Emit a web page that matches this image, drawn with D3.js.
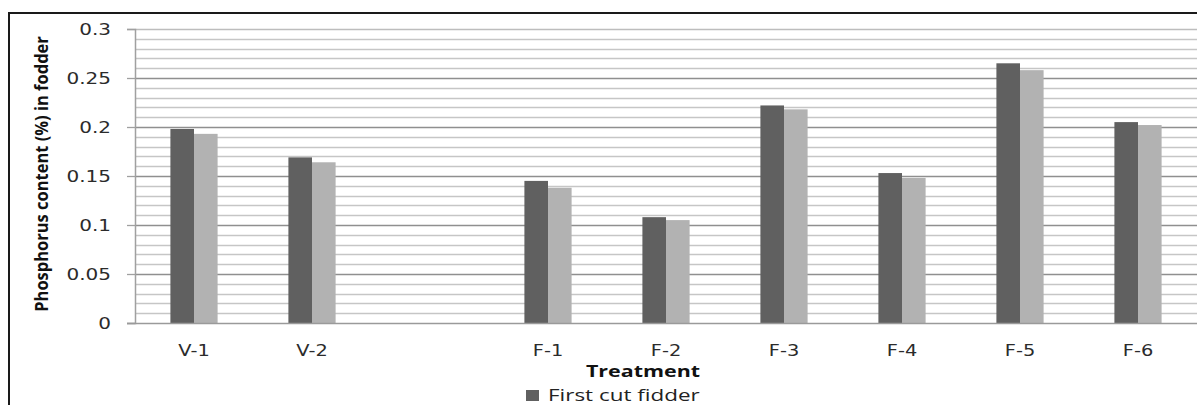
<!DOCTYPE html>
<html>
<head>
<meta charset="utf-8">
<script src="https://cdn.jsdelivr.net/npm/d3@7"></script>
<style>
  html, body { margin: 0; padding: 0; background: #fff; }
  svg { display: block; }
</style>
</head>
<body>
<svg id="chart" width="1197" height="405"></svg>
<script>
// ---- data ----
const categories = ["V-1", "V-2", "", "F-1", "F-2", "F-3", "F-4", "F-5", "F-6"];
const firstCut  = [0.198, 0.169, null, 0.145, 0.108, 0.222, 0.153, 0.265, 0.205];
const secondCut = [0.193, 0.164, null, 0.138, 0.105, 0.218, 0.148, 0.258, 0.202];
const seriesNames = ["First cut fidder", "Second cut fodder"];
const yTicks = [0, 0.05, 0.1, 0.15, 0.2, 0.25, 0.3];
const yMinor = d3.range(0, 31).map(i => i / 100);
const xTitle = "Treatment";
const yTitle = "Phosphorus content (%) in fodder";

// ---- layout ----
const W = 1197, H = 405;
const pL = 135, pR = 1197, pT = 29, pB = 323;
const colors = ["#606060", "#b2b2b2"];
const sx = 1.25; // horizontal stretch of the source image text

const svg = d3.select("#chart");

// outer frame
svg.append("path")
  .attr("d", `M9,${H} L9,13 L${W},13`)
  .attr("fill", "none").attr("stroke", "#1a1a1a").attr("stroke-width", 2);

const x = d3.scaleBand().domain(categories.map((c, i) => i))
  .range([pL, pR]).paddingInner(0.6).paddingOuter(0.3);
const xs = d3.scaleBand().domain([0, 1]).range([0, x.bandwidth()]);
const y = d3.scaleLinear().domain([0, 0.3]).range([pB, pT]);

// minor gridlines
svg.append("g").selectAll("line").data(yMinor.filter(v => Math.round(v * 100) % 5 !== 0))
  .join("line")
  .attr("x1", pL).attr("x2", pR)
  .attr("y1", d => Math.round(y(d)) + 0.5).attr("y2", d => Math.round(y(d)) + 0.5)
  .attr("stroke", "#c6c6c6").attr("stroke-width", 1.5);

// major gridlines
svg.append("g").selectAll("line").data(yTicks.filter(v => v > 0))
  .join("line")
  .attr("x1", pL).attr("x2", pR)
  .attr("y1", d => Math.round(y(d)) + 0.5).attr("y2", d => Math.round(y(d)) + 0.5)
  .attr("stroke", d => d === 0.3 ? "#bdbdbd" : "#8f8f8f").attr("stroke-width", 1.3);

// bars
const series = [firstCut, secondCut];
series.forEach((vals, si) => {
  svg.append("g").selectAll("rect")
    .data(vals.map((v, i) => ({ v, i })).filter(d => d.v != null))
    .join("rect")
    .attr("x", d => x(d.i) + xs(si))
    .attr("width", xs.bandwidth())
    .attr("y", d => y(d.v))
    .attr("height", d => y(0) - y(d.v))
    .attr("fill", colors[si]);
});

// y axis
const yAxis = svg.append("g").attr("transform", `translate(${pL},0)`)
  .call(d3.axisLeft(y).tickValues(yTicks).tickSize(8).tickPadding(0).tickFormat(d => d3.format("")(d)));
yAxis.select(".domain").attr("stroke", "#a0a0a0").attr("stroke-width", 1.5);
yAxis.selectAll(".tick line").attr("stroke", "#a0a0a0").attr("stroke-width", 1.3);
yAxis.selectAll(".tick text").remove();
yAxis.selectAll(".tick").append("text")
  .attr("transform", `translate(-24,0) scale(${sx},1)`)
  .attr("dy", "0.36em")
  .attr("text-anchor", "end")
  .attr("fill", "#2b2b2b")
  .style("font-family", "'DejaVu Sans', Verdana, sans-serif")
  .style("font-size", "16px")
  .text(d => d3.format("")(d));

// x axis
const xAxis = svg.append("g").attr("transform", `translate(0,${pB})`)
  .call(d3.axisBottom(x).tickSize(0).tickFormat(i => categories[i]));
xAxis.select(".domain").attr("d", `M${pL - 8},0.5H${pR}`).attr("stroke", "#9a9a9a").attr("stroke-width", 1.5);
xAxis.selectAll(".tick text").remove();
xAxis.selectAll(".tick").append("text")
  .attr("transform", `translate(0,33) scale(${sx},1)`)
  .attr("text-anchor", "middle")
  .attr("fill", "#2b2b2b")
  .style("font-family", "'DejaVu Sans', Verdana, sans-serif")
  .style("font-size", "15.5px")
  .text(i => categories[i]);

// x title
svg.append("text")
  .attr("transform", `translate(643,377) scale(1.3,1)`)
  .attr("text-anchor", "middle")
  .attr("fill", "#111")
  .style("font-family", "'Open Sans', sans-serif")
  .style("font-weight", "bold")
  .style("font-size", "16.5px")
  .text(xTitle);

// y title
svg.append("text")
  .attr("transform", `translate(48,174) rotate(-90) scale(0.97,1)`)
  .attr("text-anchor", "middle")
  .attr("fill", "#111")
  .style("font-family", "'Open Sans', sans-serif")
  .style("font-weight", "bold")
  .style("font-size", "17px")
  .text(yTitle);

// legend (only first series visible in source)
const lg = svg.append("g").attr("transform", "translate(526,390)");
lg.append("rect").attr("width", 13).attr("height", 11).attr("fill", colors[0]);
lg.append("text")
  .attr("transform", `translate(22,10.5) scale(1.36,1)`)
  .attr("fill", "#222")
  .style("font-family", "'Open Sans', sans-serif")
  .style("font-size", "16.5px")
  .text(seriesNames[0]);
</script>
</body>
</html>
